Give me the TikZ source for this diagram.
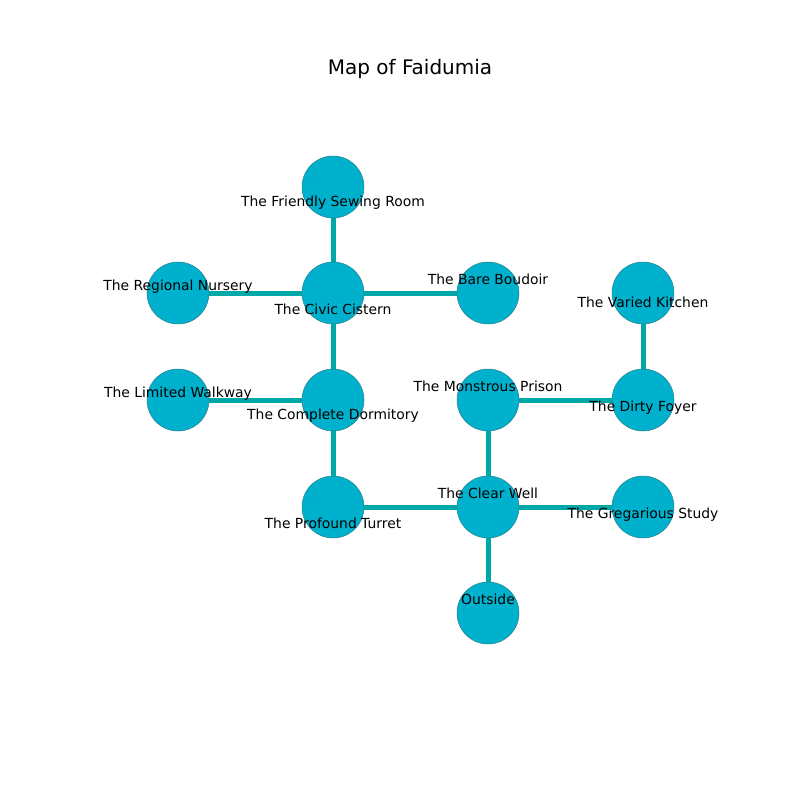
\documentclass[tikz,border=0pt]{standalone}
\usepackage{fontspec}
\setmainfont{DejaVu Sans}
\definecolor{roomfill}{HTML}{00B1CD}
\definecolor{roomedge}{HTML}{2A7F8F}
\definecolor{pathcol}{HTML}{00A8A8}
\pgfdeclarelayer{bg}
\pgfdeclarelayer{fg}
\pgfsetlayers{bg,main,fg}
\begin{document}
\begin{tikzpicture}[x=0.72pt,y=-0.72pt,
  room/.style={circle,fill=roomfill,draw=roomedge,line width=0.4pt,minimum size=44.6pt,inner sep=0pt},
  lbl/.style={font=\fontsize{10pt}{12pt}\selectfont,inner sep=0pt,anchor=center,yshift=-1.4pt},
  corridor/.style={draw=pathcol,line width=3.6pt}]
\useasboundingbox (0,0) rectangle (800,800);
\node[font=\fontsize{14.4pt}{17pt}\selectfont] (title) at (410,69) {Map of Faidumia};
% rooms
\node[room] (fsr) at (333,187) {};
\node[room] (rn) at (178,293) {};
\node[room] (cc) at (333,293) {};
\node[room] (bb) at (488,293) {};
\node[room] (vk) at (643,293) {};
\node[room] (lw) at (178,400) {};
\node[room] (cd) at (333,400) {};
\node[room] (mp) at (488,400) {};
\node[room] (df) at (643,400) {};
\node[room] (pt) at (333,507) {};
\node[room] (cw) at (488,507) {};
\node[room] (gs) at (643,507) {};
\node[room] (out) at (488,613) {};
% corridors
\begin{pgfonlayer}{bg}
\path[corridor] (fsr.center) -- (cc.center);
\path[corridor] (rn.center) -- (cc.center);
\path[corridor] (cc.center) -- (bb.center);
\path[corridor] (cc.center) -- (cd.center);
\path[corridor] (lw.center) -- (cd.center);
\path[corridor] (cd.center) -- (pt.center);
\path[corridor] (pt.center) -- (cw.center);
\path[corridor] (cw.center) -- (mp.center);
\path[corridor] (mp.center) -- (df.center);
\path[corridor] (df.center) -- (vk.center);
\path[corridor] (cw.center) -- (gs.center);
\path[corridor] (cw.center) -- (out.center);
\end{pgfonlayer}
% labels
\begin{pgfonlayer}{fg}
\node[lbl] (lfsr) at (333,201) {The Friendly Sewing Room};
\node[lbl] (lrn) at (178,285) {The Regional Nursery};
\node[lbl] (lcc) at (333,307) {The Civic Cistern};
\node[lbl] (lbb) at (488,277) {The Bare Boudoir};
\node[lbl] (lvk) at (643,300) {The Varied Kitchen};
\node[lbl] (llw) at (178,392) {The Limited Walkway};
\node[lbl] (lcd) at (333,414) {The Complete Dormitory};
\node[lbl] (lmp) at (488,384) {The Monstrous Prison};
\node[lbl] (ldf) at (643,406) {The Dirty Foyer};
\node[lbl] (lpt) at (333,521) {The Profound Turret};
\node[lbl] (lcw) at (488,491) {The Clear Well};
\node[lbl] (lgs) at (643,513) {The Gregarious Study};
\node[lbl] (lout) at (488,597) {Outside};
\end{pgfonlayer}
\end{tikzpicture}
\end{document}
